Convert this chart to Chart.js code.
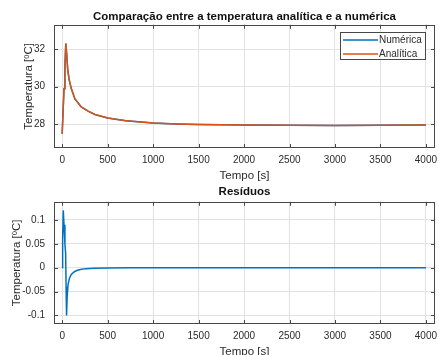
<!DOCTYPE html>
<html>
<head>
<meta charset="utf-8">
<script src="https://cdn.jsdelivr.net/npm/chart.js@4.4.1/dist/chart.umd.min.js"></script>
<style>
  html, body { margin:0; padding:0; background:#fff; overflow:hidden; }
  #wrap { position:relative; width:439px; height:355px; overflow:hidden; }
  canvas { position:absolute; left:0; }
  #topChart { top:0; }
  #resChart { top:178px; }
</style>
</head>
<body>
<div id="wrap">
  <canvas id="topChart" width="439" height="185"></canvas>
  <canvas id="resChart" width="439" height="185"></canvas>
</div>
<script>
/* ---------- data ---------- */
const tempoTop  = [0, 10, 20, 30, 40, 50, 60, 75, 100, 140, 210, 285, 360, 500, 700, 1000, 1250, 1500, 2000, 2500, 3000, 3500, 4000];
const analitica = [27.5, 28.7, 29.9, 31.1, 32.3, 31.7, 30.95, 30.4, 29.9, 29.35, 28.92, 28.7, 28.52, 28.34, 28.19, 28.07, 28.02, 27.99, 27.96, 27.95, 27.94, 27.95, 27.96];
const numerica  = [27.5, 28.69, 29.89, 31.09, 32.29, 31.71, 30.96, 30.41, 29.9, 29.35, 28.92, 28.7, 28.52, 28.34, 28.19, 28.07, 28.02, 27.99, 27.96, 27.95, 27.94, 27.95, 27.96];

const tempoRes  = [0, 5, 12, 20, 30, 38, 43, 48, 55, 65, 80, 100, 130, 160, 200, 260, 350, 500, 750, 1000, 1500, 2000, 2500, 3000, 3500, 4000];
const residuos  = [0, 0.06, 0.12, 0.09, 0.05, 0.03, -0.04, -0.1, -0.06, -0.035, -0.022, -0.014, -0.009, -0.006, -0.004, -0.002, -0.001, -0.0005, 0, 0, 0, 0, 0, 0, 0, 0];

const xTicks      = [0, 500, 1000, 1500, 2000, 2500, 3000, 3500, 4000];
const yTicksTop   = [28, 30, 32];
const yTicksRes   = [-0.1, -0.05, 0, 0.05, 0.1];
const legendNames = ['Numérica', 'Analítica'];

/* ---------- style ---------- */
const FONT   = "'Liberation Sans', Arial, Helvetica, sans-serif";
const TXT    = '#2b2b2b';
const GRID   = '#e2e2e2';
const BLUE   = '#0072BD';
const ORANGE = '#D95319';

function pts(xs, ys) { return xs.map((x, i) => ({ x, y: ys[i] })); }

/* MATLAB-like box with inward ticks */
const boxPlugin = {
  id: 'matBox',
  afterDraw(chart) {
    const { ctx, chartArea: a, scales } = chart;
    ctx.save();
    ctx.strokeStyle = '#474747';
    ctx.lineWidth = 1;
    ctx.strokeRect(Math.round(a.left) + 0.5, Math.round(a.top) + 0.5,
                   Math.round(a.right - a.left) - 1, Math.round(a.bottom - a.top) - 1);
    ctx.beginPath();
    scales.x.ticks.forEach(t => {
      const px = Math.round(scales.x.getPixelForValue(t.value)) + 0.5;
      ctx.moveTo(px, a.bottom); ctx.lineTo(px, a.bottom - 4);
      ctx.moveTo(px, a.top);    ctx.lineTo(px, a.top + 4);
    });
    scales.y.ticks.forEach(t => {
      const py = Math.round(scales.y.getPixelForValue(t.value)) + 0.5;
      ctx.moveTo(a.left, py);  ctx.lineTo(a.left + 4, py);
      ctx.moveTo(a.right, py); ctx.lineTo(a.right - 4, py);
    });
    ctx.stroke();
    ctx.restore();
  }
};

/* legend box inside the top axes */
const legendPlugin = {
  id: 'matLegend',
  afterDraw(chart) {
    const { ctx } = chart;
    const x0 = 340, y0 = 32, w = 86, h = 28;
    ctx.save();
    ctx.fillStyle = '#fff';
    ctx.fillRect(x0, y0, w, h);
    ctx.strokeStyle = '#474747';
    ctx.lineWidth = 1;
    ctx.strokeRect(x0 + 0.5, y0 + 0.5, w - 1, h - 1);
    const colors = [BLUE, ORANGE];
    ctx.font = '10px ' + FONT;
    ctx.textBaseline = 'middle';
    legendNames.forEach((name, i) => {
      const y = y0 + 8 + i * 14;
      ctx.strokeStyle = colors[i];
      ctx.lineWidth = 1.5;
      ctx.beginPath(); ctx.moveTo(343, y); ctx.lineTo(378, y); ctx.stroke();
      ctx.fillStyle = TXT;
      ctx.fillText(name, 379, y);
    });
    ctx.restore();
  }
};

function makeChart(id, datasets, yMin, yMax, yTicks, title, opts) {
  const ctx = document.getElementById(id).getContext('2d');
  return new Chart(ctx, {
    type: 'line',
    data: { datasets },
    plugins: opts.plugins,
    options: {
      responsive: false,
      animation: false,
      layout: { padding: { left: 0, right: 4, top: 0, bottom: 0 } },
      elements: { point: { radius: 0 }, line: { borderWidth: 1.5, tension: 0 } },
      plugins: {
        legend: { display: false },
        tooltip: { enabled: false },
        title: {
          display: true, text: title, color: '#111', fullSize: false,
          font: { family: FONT, size: 11.5, weight: 'bold' },
          padding: opts.titlePad
        }
      },
      scales: {
        x: {
          type: 'linear', min: -90, max: 4100,
          afterBuildTicks: s => { s.ticks = xTicks.map(v => ({ value: v })); },
          afterFit: s => { s.height = opts.xHeight; },
          ticks: { color: TXT, font: { family: FONT, size: 10 }, padding: 0, maxRotation: 0,
                   callback: v => String(v) },
          grid: { color: GRID, drawTicks: true, tickLength: 6, tickColor: 'transparent' },
          border: { display: false },
          title: { display: true, text: 'Tempo [s]', color: TXT,
                   font: { family: FONT, size: 11.5 }, padding: { top: 0, bottom: opts.xTitlePad } }
        },
        y: {
          min: yMin, max: yMax,
          afterBuildTicks: s => { s.ticks = yTicks.map(v => ({ value: v })); },
          afterFit: s => { s.width = 54; },
          ticks: { color: TXT, font: { family: FONT, size: 10 }, padding: 0,
                   callback: v => String(v) },
          grid: { color: GRID, drawTicks: true, tickLength: 9, tickColor: 'transparent' },
          border: { display: false },
          title: { display: true, text: 'Temperatura [ºC]', color: TXT,
                   font: { family: FONT, size: 11.5 }, padding: { top: opts.yTitlePad, bottom: 0 } }
        }
      }
    }
  });
}

/* analitica drawn on top of numerica (order: lower = on top) */
makeChart('topChart', [
  { label: legendNames[0], data: pts(tempoTop, numerica),  borderColor: BLUE,   backgroundColor: BLUE,   order: 1 },
  { label: legendNames[1], data: pts(tempoTop, analitica), borderColor: ORANGE, backgroundColor: ORANGE, order: 0 }
], 26.74, 33.29, yTicksTop, 'Comparação entre a temperatura analítica e a numérica',
{ titlePad: { top: 10, bottom: 1 }, xHeight: 37, xTitlePad: 2.7, yTitlePad: 22, plugins: [boxPlugin, legendPlugin] });

makeChart('resChart', [
  { label: 'Resíduos', data: pts(tempoRes, residuos), borderColor: BLUE, backgroundColor: BLUE }
], -0.118, 0.138, yTicksRes, 'Resíduos',
{ titlePad: { top: 7, bottom: 3 }, xHeight: 39, xTitlePad: 4.7, yTitlePad: 10.4, plugins: [boxPlugin] });
</script>
</body>
</html>
